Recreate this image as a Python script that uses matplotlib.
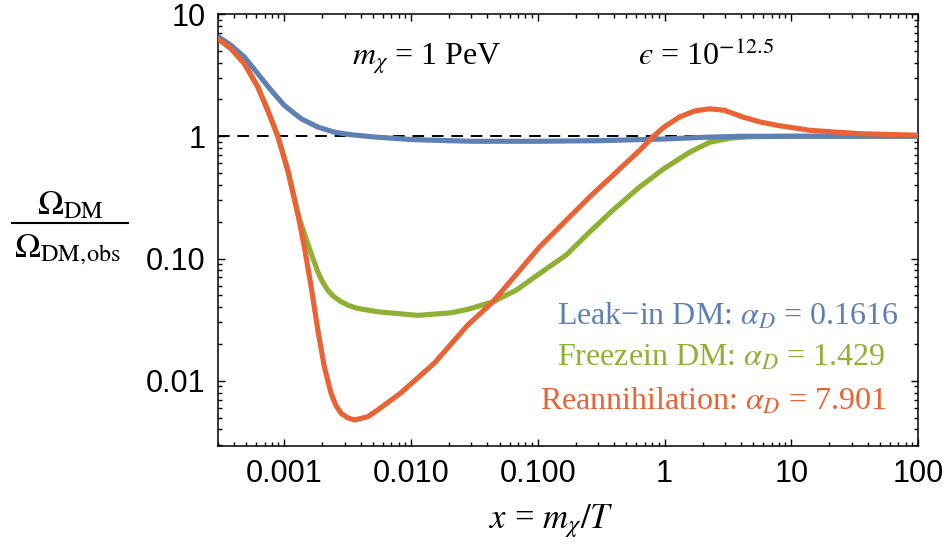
import matplotlib
matplotlib.use("Agg")
import matplotlib.pyplot as plt
from matplotlib.lines import Line2D
from matplotlib.ticker import FixedLocator, FixedFormatter, LogLocator, NullFormatter

plt.rcParams['mathtext.fontset'] = 'stix'

leak_x = [3.0e-4, 3.8e-4, 4.85e-4, 6.18e-4, 7.87e-4, 1.0e-3, 1.17e-3, 1.36e-3, 1.84e-3,
          2.49e-3, 3.36e-3, 5.14e-3, 0.01, 0.03, 0.1, 0.3, 1.0, 2.0, 4.0, 10, 100]
leak_y = [6.56, 5.54, 4.44, 3.25, 2.38, 1.79, 1.57, 1.39, 1.19,
          1.08, 1.03, 0.987, 0.94, 0.91, 0.91, 0.92, 0.95, 0.98, 1.0, 1.0, 1.0]

freeze_x = [3.0e-4, 3.8e-4, 4.85e-4, 6.18e-4, 7.41e-4, 8.89e-4, 1.066e-3, 1.277e-3, 1.44e-3,
            1.63e-3, 1.84e-3, 2.0e-3, 2.2e-3, 2.45e-3, 2.81e-3, 3.24e-3, 3.8e-3, 5.46e-3,
            0.0113, 0.0207, 0.028, 0.0443, 0.0678, 0.1035, 0.168, 0.2566, 0.392, 0.637,
            0.998, 1.578, 2.27, 3.26, 4.69, 9.5, 100]
freeze_y = [6.29, 5.21, 3.93, 2.53, 1.63, 1.0, 0.527, 0.2335, 0.160,
            0.110, 0.0778, 0.0646, 0.0552, 0.049, 0.0443, 0.0412, 0.0391, 0.0367,
            0.0343, 0.036, 0.0384, 0.0443, 0.0552, 0.0755, 0.107, 0.165, 0.249, 0.385,
            0.547, 0.740, 0.893, 0.963, 0.99, 1.0, 1.0]

reann_x = [3.0e-4, 3.8e-4, 4.85e-4, 6.18e-4, 7.41e-4, 8.89e-4, 1.066e-3, 1.277e-3, 1.44e-3,
           1.63e-3, 1.84e-3, 2.07e-3, 2.34e-3, 2.55e-3, 2.81e-3, 3.15e-3, 3.58e-3, 4.56e-3,
           5.46e-3, 8.29e-3, 0.0153, 0.028, 0.0443, 0.1035, 0.2566, 0.637, 0.81, 0.998,
           1.315, 1.727, 2.27, 2.98, 4.13, 5.66, 7.71, 13.9, 34.5, 100]
reann_y = [6.29, 5.21, 3.93, 2.53, 1.63, 1.0, 0.527, 0.2335, 0.1246,
           0.0587, 0.026, 0.01303, 0.0079, 0.0063, 0.00542, 0.0050, 0.00478, 0.00509,
           0.00577, 0.00795, 0.01397, 0.02857, 0.0443, 0.1247, 0.319, 0.768, 0.992, 1.196,
           1.438, 1.61, 1.678, 1.63, 1.44, 1.31, 1.23, 1.12, 1.05, 1.02]

x_ticks = [0.001, 0.01, 0.1, 1, 10, 100]
x_ticklabels = ['0.001', '0.010', '0.100', '1', '10', '100']
y_ticks = [0.01, 0.1, 1, 10]
y_ticklabels = ['0.01', '0.10', '1', '10']

labels = ['Leak\u2212in DM: $\\alpha_D$ = 0.1616',
          'Freezein DM: $\\alpha_D$ = 1.429',
          'Reannihilation: $\\alpha_D$ = 7.901']
blue, green, red = '#5E81B5', '#8FB032', '#EB6235'

W, H = 947, 546
fig = plt.figure(figsize=(W / 100, H / 100), dpi=100)
ax = fig.add_axes([218 / W, 1 - 446 / H, 700 / W, 432 / H])

ax.axhline(1, color='black', lw=1.4, ls=(0, (6, 4)), zorder=1)
style = dict(lw=3.7, solid_capstyle='butt', solid_joinstyle='round')
ax.plot(freeze_x, freeze_y, color=green, zorder=2, **style)
ax.plot(leak_x, leak_y, color=blue, zorder=3, **style)
ax.plot(reann_x, reann_y, color=red, zorder=4, **style)

ax.set_xscale('log')
ax.set_yscale('log')
ax.set_xlim(3.0e-4, 100)
ax.set_ylim(0.00293, 10)

ax.xaxis.set_major_locator(FixedLocator(x_ticks))
ax.xaxis.set_major_formatter(FixedFormatter(x_ticklabels))
ax.yaxis.set_major_locator(FixedLocator(y_ticks))
ax.yaxis.set_major_formatter(FixedFormatter(y_ticklabels))
for axis in (ax.xaxis, ax.yaxis):
    axis.set_minor_locator(LogLocator(base=10, subs=range(2, 10), numticks=20))
    axis.set_minor_formatter(NullFormatter())

ax.tick_params(which='both', direction='in', top=True, right=True, width=1.0)
ax.tick_params(which='major', length=5, labelsize=22, pad=9)
ax.tick_params(which='minor', length=3)
for lab in ax.get_xticklabels() + ax.get_yticklabels():
    lab.set_family(['Liberation Sans', 'DejaVu Sans'])
for sp in ax.spines.values():
    sp.set_linewidth(1.1)

serif = ['Liberation Serif', 'DejaVu Serif']
fig.text(427 / W, 1 - 65 / H, '$m_\\chi$ = 1 PeV', ha='center', va='baseline',
         fontsize=23, family=serif)
fig.text(706 / W, 1 - 65 / H, '$\u03f5$ = 10$^{-12.5}$', ha='center', va='baseline',
         fontsize=23, family=serif)

for lab, col, cx, by in zip(labels, [blue, green, red], [728, 721, 713], [325, 366, 410]):
    fig.text(cx / W, 1 - by / H, lab, ha='center', va='baseline', fontsize=23,
             color=col, family=serif)

fig.text(551 / W, 1 - 528 / H, '$x$ = $m_\\chi/T$', ha='center', va='baseline',
         fontsize=25, family=serif)

# y label drawn as a fraction
fig.text(70 / W, 1 - 214 / H, '$\\Omega_{\\rm DM}$', ha='center', va='baseline',
         fontsize=25, family=serif)
fig.add_artist(Line2D([12 / W, 128 / W], [1 - 223 / H, 1 - 223 / H], color='black', lw=1.5))
fig.text(68 / W, 1 - 257 / H, '$\\Omega_{\\rm DM,\\!obs}$', ha='center', va='baseline',
         fontsize=25, family=serif)

fig.savefig('out.png', dpi=100)
